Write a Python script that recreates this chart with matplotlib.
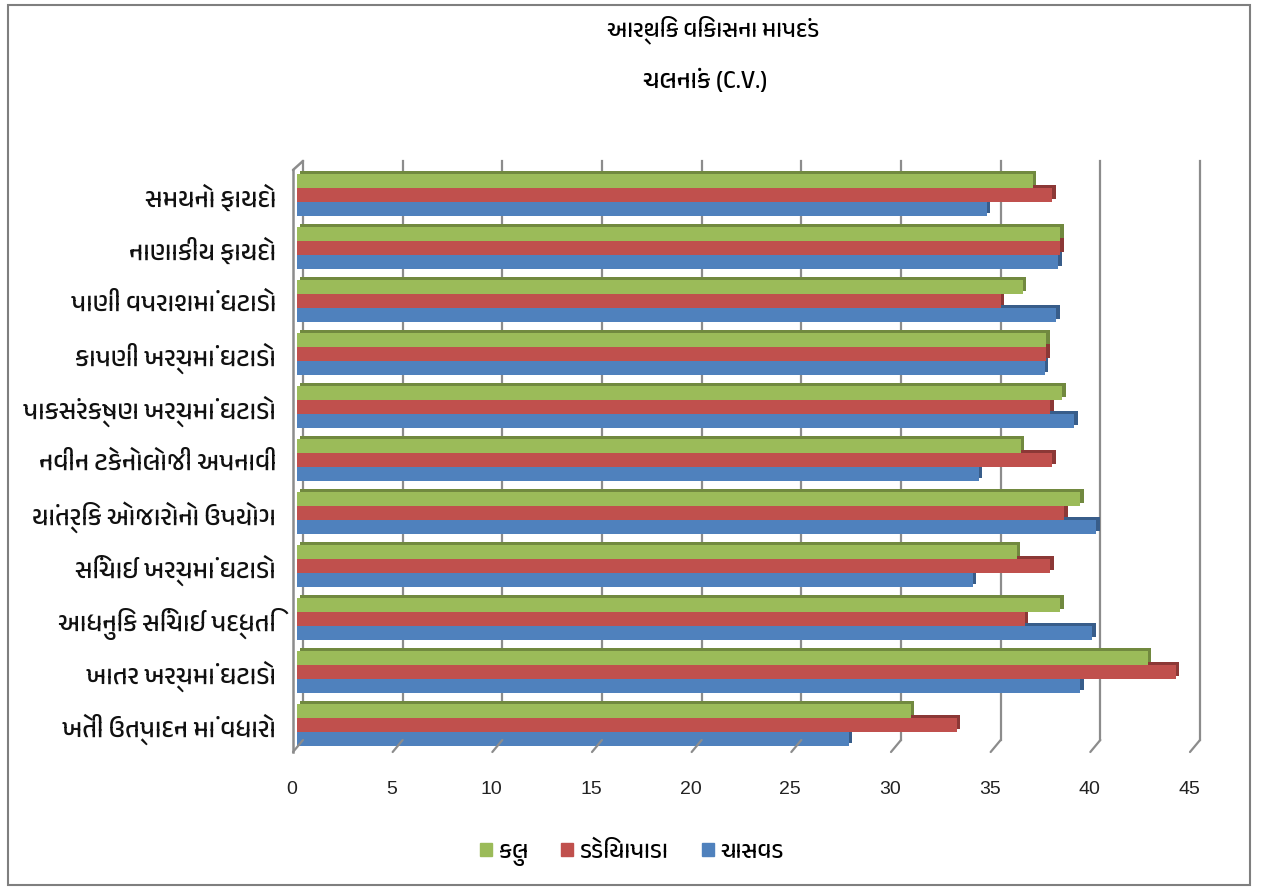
import numpy as np
import matplotlib
matplotlib.use('Agg')
import matplotlib.pyplot as plt
from matplotlib import font_manager, patheffects
from matplotlib.transforms import ScaledTranslation
from matplotlib.patches import Rectangle

# data
categories = ['સમયનો ફાયદો', 'નાણાકીય ફાયદો', 'પાણી વપરાશમાં ઘટાડો', 'કાપણી ખર્ચમાં ઘટાડો',
              'પાકસંરક્ષણ ખર્ચમાં ઘટાડો', 'નવીન ટેકનોલોજી અપનાવી', 'યાંત્રિક ઓજારોનો ઉપયોગ',
              'સિંચાઈ ખર્ચમાં ઘટાડો', 'આધુનિક સિંચાઈ પદ્ધતિ', 'ખાતર ખર્ચમાં ઘટાડો',
              'ખેતી ઉત્પાદન માં વધારો']
kul = [36.9, 38.3, 36.4, 37.6, 38.4, 36.3, 39.3, 36.1, 38.3, 42.7, 30.8]
dediyapada = [37.9, 38.3, 35.3, 37.6, 37.8, 37.9, 38.5, 37.8, 36.5, 44.1, 33.1]
chasvad = [34.6, 38.2, 38.1, 37.5, 39.0, 34.2, 40.1, 33.9, 39.9, 39.3, 27.7]
series_names = ['કુલ', 'ડેડિયાપાડા', 'ચાસવડ']
xticks = [0, 5, 10, 15, 20, 25, 30, 35, 40, 45]
title = 'આર્થિક વિકાસના માપદંડ'
subtitle = 'ચલનાંક (C.V.)'

# pick a font that has Gujarati glyphs if there is one
fams = sorted({f.name for f in font_manager.fontManager.ttflist})
guj = [f for f in fams if 'Gujarati' in f or f in ('Shruti', 'Rekha', 'Padmaa', 'aakar', 'Lohit Gujarati')]
plt.rcParams['font.family'] = guj + ['DejaVu Sans']
numfont = [f for f in ['Liberation Sans Narrow', 'Liberation Sans'] if f in fams] + ['DejaVu Sans']

green, red, blue = '#9BBB59', '#C0504D', '#4F81BD'
dgreen, dred, dblue = '#71893F', '#8C3836', '#385D8A'

W, H = 1263, 889
fig = plt.figure(figsize=(W / 100, H / 100), dpi=100)
ax = fig.add_axes([297 / W, 1 - 746 / H, 897 / W, 585 / H])

pitch = 53.0
row0 = 195.3
ax.set_xlim(0, 45)
ax.set_ylim((746 - row0) / pitch, (161 - row0) / pitch)
h = 14 / pitch

y = np.arange(len(categories))
def px(dx, dy=0):
    return ScaledTranslation(dx / 100, dy / 100, fig.dpi_scale_trans)

# bars, bottom series first so upper ones hide the extruded tops
for vals, off, col, dcol, z in [(chasvad, h, blue, dblue, 3), (dediyapada, 0, red, dred, 4), (kul, -h, green, dgreen, 5)]:
    bars = ax.barh(y + off, vals, height=h, color=col, zorder=z, linewidth=0)
    for b in bars:
        b.set_path_effects([patheffects.SimplePatchShadow(offset=(2.3, 2.6), shadow_rgbFace=dcol, alpha=1),
                            patheffects.Normal()])

# back wall gridlines and floor ticks
xt = ax.get_xaxis_transform()
for t in xticks:
    ax.plot([t, t], [1.0, 6 / 585], color='#8c8c8c', lw=1.6, transform=xt + px(6), zorder=1, clip_on=False)
    ax.annotate('', xy=(t, -6 / 585), xycoords=xt + px(-4), xytext=(t, 6 / 585), textcoords=xt + px(6),
                arrowprops=dict(arrowstyle='-', color='#8c8c8c', lw=1.6, shrinkA=0, shrinkB=0))
    ax.text(t, -44 / 585, str(t), transform=xt + px(-5), ha='center', va='center',
            fontsize=14, family=numfont, color='#222222')

# left wall
ax.plot([0, 0], [-6 / 585, 1 - 9 / 585], color='#8c8c8c', lw=1.8, transform=xt + px(-4), clip_on=False)
ax.annotate('', xy=(0, 1.0), xycoords=xt + px(6), xytext=(0, 1 - 9 / 585), textcoords=xt + px(-4),
            arrowprops=dict(arrowstyle='-', color='#8c8c8c', lw=1.8, shrinkA=0, shrinkB=0))

ax.set_yticks(y)
ax.set_yticklabels(categories, fontsize=18.5, color='#111111')
ax.tick_params(axis='y', length=0, pad=15)
ax.set_xticks([])
for s in ax.spines.values():
    s.set_visible(False)
ax.patch.set_alpha(0)

fig.text(713 / W, 1 - 30 / H, title, ha='center', va='center', fontsize=17)
fig.text(705 / W, 1 - 80 / H, subtitle, ha='center', va='center', fontsize=18)

handles = [Rectangle((0, 0), 1, 1, color=c) for c in (green, red, blue)]
fig.legend(handles, series_names, loc='center', bbox_to_anchor=(632 / W, 1 - 853 / H), ncol=3, frameon=False,
           fontsize=17, handlelength=0.5, handleheight=0.5, handletextpad=0.3, columnspacing=1.4)

fig.add_artist(Rectangle((8 / W, 1 - 885 / H), 1242 / W, 880 / H, transform=fig.transFigure,
                         fill=False, edgecolor='#7f7f7f', lw=1.5))

fig.savefig('out.png', dpi=100)
